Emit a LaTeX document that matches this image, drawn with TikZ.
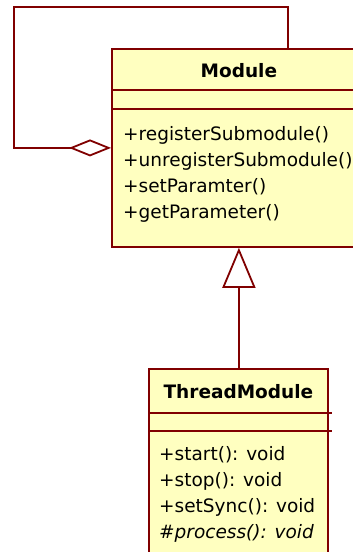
\documentclass[tikz,border=0pt]{standalone}
\usepackage{fontspec}
\setmainfont{DejaVu Sans}
\usetikzlibrary{arrows.meta}
\definecolor{classfill}{RGB}{255,255,192}
\definecolor{classline}{RGB}{128,0,0}
\begin{document}
\begin{tikzpicture}[x=1pt,y=-1pt,
  classbox/.style={draw=classline, fill=classfill, line width=1.8pt,
    rectangle, anchor=north west, inner sep=0pt},
  member/.style={anchor=base west, inner sep=0pt,
    font=\fontsize{18.5}{22}\selectfont},
  classtitle/.style={anchor=base, inner sep=0pt,
    font=\fontsize{18.5}{22}\selectfont\bfseries},
  conn/.style={draw=classline, line width=1.8pt},
]
\useasboundingbox (0,0) rectangle (353,552);
\clip (0,0) rectangle (353,552);

% class Module
\node[classbox, minimum width=254pt, minimum height=198pt] (module) at (111,48) {};
\draw[conn] ([yshift=-42pt]module.north west) -- ([yshift=-42pt]module.north east);
\draw[conn] ([yshift=-61pt]module.north west) -- ([yshift=-61pt]module.north east);
\node[classtitle] (moduletitle) at ([yshift=-29pt]module.north) {Module};
\node[member] (mreg)   at (123,140) {+registerSubmodule()};
\node[member] (munreg) at (123,166) {+unregisterSubmodule()};
\node[member] (mset)   at (123,192) {+setParamter()};
\node[member] (mget)   at (123,218) {+getParameter()};

% class ThreadModule
\node[classbox, minimum width=179pt, minimum height=200pt] (thread) at (148,368) {};
\draw[conn] ([yshift=-44.7pt]thread.north west) -- ([xshift=3pt,yshift=-44.7pt]thread.north east);
\draw[conn] ([yshift=-62.7pt]thread.north west) -- ([xshift=3pt,yshift=-62.7pt]thread.north east);
\node[classtitle] (threadtitle) at ([yshift=-30.5pt]thread.north) {ThreadModule};
\node[member] (tstart) at (159,460) {+start(): void};
\node[member] (tstop)  at (159,486) {+stop(): void};
\node[member] (tsync)  at (159,512) {+setSync(): void};
\node[member] (tproc)  at (159,538) {\itshape\#process(): void};

% self aggregation of Module
\coordinate (loopright) at (288,7);
\coordinate (loopleft) at (14,7);
\draw[conn, -{Diamond[open, fill=white, length=42pt, width=17pt]}]
  (module.north -| loopright) -- (loopright) -- (loopleft) |- (module.west);

% generalization ThreadModule -> Module
\draw[conn, -{Triangle[open, fill=white, length=40pt, width=33pt]}]
  (thread.north -| module.south) -- (module.south);
\end{tikzpicture}
\end{document}
